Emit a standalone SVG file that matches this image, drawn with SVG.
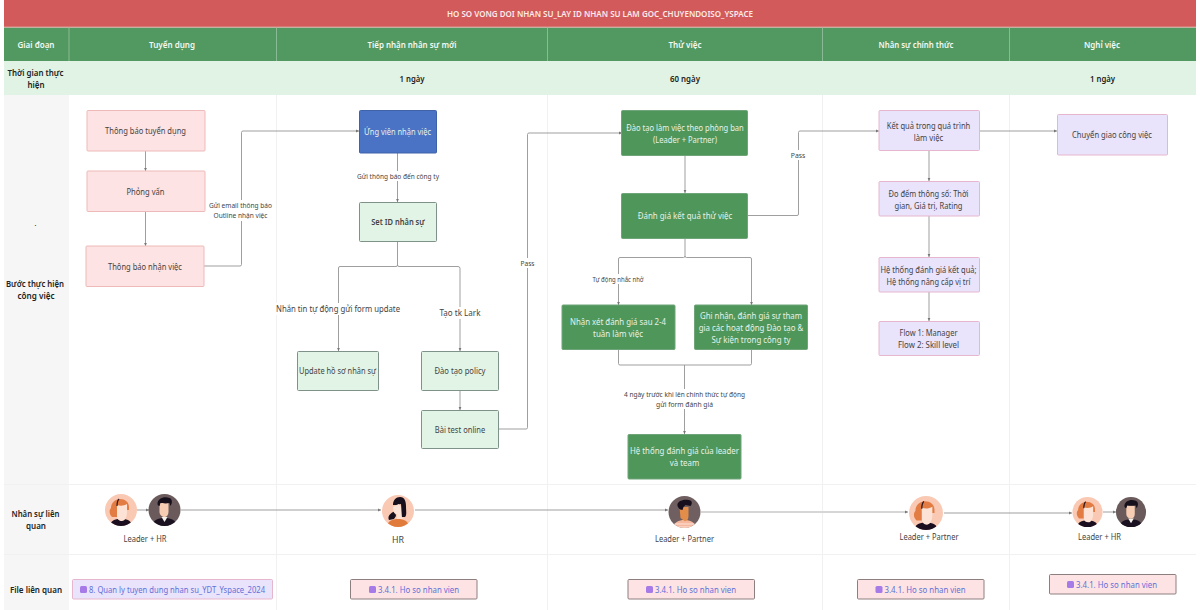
<svg xmlns="http://www.w3.org/2000/svg" width="1200" height="610" viewBox="0 0 1200 610">
<style>
text{font-family:"Noto Sans","Open Sans","DejaVu Sans",sans-serif;text-anchor:middle;dominant-baseline:central;font-size:9.2px;fill:#444;transform:translateY(-.5px)}
.ttl{fill:#fbeaea;font-weight:600;font-size:9px}
.hd{fill:#f2f8f3;font-weight:600;font-size:9.6px}
.rl{fill:#222;font-weight:600;font-size:9.6px}
.w{fill:#e6f2e8}
.s{font-size:7.8px}
.lk{fill:#5f71d9;text-anchor:start}
.b{stroke-width:1;rx:1}
.pink{fill:#fde3e3;stroke:#eeb9b9}
.blue{fill:#4a73c5;stroke:#3f62a8}
.lg{fill:#e2f4e6;stroke:#7f9289}
.dg{fill:#4f965a;stroke:#6fa578}
.lav{fill:#e9e3fc;stroke:#e6b6cf}
.fp{fill:#fde3e3;stroke:#8d7f80}
.fl{fill:#e9e3fc;stroke:#e6b6cf}
.c{fill:none;stroke:#949494;stroke-width:.9;marker-end:url(#a)}
.n{fill:none;stroke:#949494;stroke-width:.9}
.lb{fill:#fff}
.g{stroke:#f1f1f1;stroke-width:1}
.ic{fill:#a67be8}
</style>
<defs>
<marker id="a" markerUnits="userSpaceOnUse" markerWidth="4" markerHeight="4" refX="3" refY="2" orient="auto"><path d="M0 .6L3 2L0 3.400z" fill="#777"/></marker>
<clipPath id="cc"><circle r="16"/></clipPath>
<g id="fem"><circle r="16" fill="#fac9b4"/><g clip-path="url(#cc)"><path d="M-11 17c0-6 4-8 11-8s11 2 11 8z" fill="#1b0e1e"/><path d="M-9 7c-3-3-3-7-1-9 0-5 4-9 9-9 5 0 9 3 9 8v3H-3v7z" fill="#e37c42"/><path d="M-4-5c3 1 7 1 10-1v8c0 5-2 9-5 9s-5-2-5-5z" fill="#fde3d6"/><path d="M-2-11c-2 2-2 5-2 7" stroke="#2a1620" stroke-width="1.200" fill="none"/></g></g>
<g id="mal"><circle r="16" fill="#6a5a5b"/><g clip-path="url(#cc)"><path d="M-12 17c0-7 5-9 12-9s12 2 12 9z" fill="#1a1220"/><path d="M-3 7h6l-3 5z" fill="#f4f0ea"/><path d="M-5-7h9v9c0 3-2 5-4 5s-5-2-5-5z" fill="#f6cdb2"/><path d="M-7-6c0-6 7-8 12-6 3 1 3 5 1 8l-1-3c-4 1-8 0-9 0l-1 3c-1 0-2-1-2-2z" fill="#160f1c"/></g></g>
<g id="hrw"><circle r="16" fill="#fac9b4"/><g clip-path="url(#cc)"><path d="M-11 17c0-7 5-9 11-9s11 2 11 9z" fill="#e07b3c"/><path d="M-5-6c0-5 3-8 7-8 5 0 6 5 6 9 0 5 1 9-1 11l-3 0-1-13-5 1zM-3 0c-4 2-8 5-6 9l5-1 2-3z" fill="#170f1c"/><path d="M-5-4l6-3 2 3v9l2 3h-6v-5c-3 0-4-2-4-7z" fill="#fde3d6"/></g></g>
<g id="par"><circle r="16" fill="#6f5f60"/><g clip-path="url(#cc)"><path d="M-11 17c0-7 5-9 11-9s11 2 11 9z" fill="#f7b79d"/><path d="M-10 12h20M-11 15h22" stroke="#fbe4da" stroke-width="1"/><path d="M-5-5h9v8c0 4-1 6-4 6l-4-3z" fill="#e38d4b"/><path d="M-7-6c-1-5 6-7 11-6 4 0 4 4 2 6l-5-1-2 2-1 3c-3 0-4-2-5-4z" fill="#170f1c"/></g></g>
</defs>
<rect width="1200" height="610" fill="#fff"/>
<g id="table">
<rect x="4" y="0" width="1192" height="27" fill="#d25a5a"/>
<rect x="4" y="27.500" width="1192" height="33.500" fill="#529961"/>
<rect x="4" y="61" width="1192" height="34" fill="#e0f3e4"/>
<rect x="4" y="95" width="65" height="515" fill="#f6f6f6"/>
<path class="g" d="M276.500 95V610M547.500 95V610M822.500 95V610M1009.500 95V610M4 484.500H1196M4 554.500H1196"/>
<path d="M69 27.500V61M276.500 27.500V61M547.500 27.500V61M822.500 27.500V61M1009.500 27.500V61" stroke="#8ab995" stroke-width="1"/>
<path d="M4 27H1196" stroke="#d89a90" stroke-width="1"/>
<text class="ttl" x="600" y="14" textLength="306" lengthAdjust="spacingAndGlyphs">HO SO VONG DOI NHAN SU_LAY ID NHAN SU LAM GOC_CHUYENDOISO_YSPACE</text>
<text class="hd" x="36" y="44.500" textLength="37" lengthAdjust="spacingAndGlyphs">Giai đoạn</text>
<text class="hd" x="172" y="44.500" textLength="46" lengthAdjust="spacingAndGlyphs">Tuyển dụng</text>
<text class="hd" x="412" y="44.500" textLength="89" lengthAdjust="spacingAndGlyphs">Tiếp nhận nhân sự mới</text>
<text class="hd" x="685" y="44.500" textLength="33" lengthAdjust="spacingAndGlyphs">Thử việc</text>
<text class="hd" x="916" y="44.500" textLength="75" lengthAdjust="spacingAndGlyphs">Nhân sự chính thức</text>
<text class="hd" x="1102" y="44.500" textLength="36" lengthAdjust="spacingAndGlyphs">Nghỉ việc</text>
<text class="rl" x="35.500" y="72.500" textLength="56" lengthAdjust="spacingAndGlyphs">Thời gian thực</text>
<text class="rl" x="36" y="84.500" textLength="17" lengthAdjust="spacingAndGlyphs">hiện</text>
<text class="rl" x="412" y="78.500" textLength="25" lengthAdjust="spacingAndGlyphs">1 ngày</text>
<text class="rl" x="685" y="78.500" textLength="30" lengthAdjust="spacingAndGlyphs">60 ngày</text>
<text class="rl" x="1102.500" y="78.500" textLength="25" lengthAdjust="spacingAndGlyphs">1 ngày</text>
<text class="rl" x="35.500" y="224" style="font-weight:400;font-size:7px">.</text>
<text class="rl" x="35" y="284" textLength="58" lengthAdjust="spacingAndGlyphs">Bước thực hiện</text>
<text class="rl" x="36" y="296" textLength="37" lengthAdjust="spacingAndGlyphs">công việc</text>
<text class="rl" x="35.500" y="514" textLength="48" lengthAdjust="spacingAndGlyphs">Nhân sự liên</text>
<text class="rl" x="36" y="526" textLength="20" lengthAdjust="spacingAndGlyphs">quan</text>
<text class="rl" x="36" y="589.500" textLength="52" lengthAdjust="spacingAndGlyphs">File liên quan</text>
</g>
<g id="connectors">
<path class="c" d="M145.500 151V171"/>
<path class="c" d="M145.500 211V246"/>
<path class="c" d="M204 266H240a1.500 1.500 0 0 0 1.500-1.500V132.500a1.500 1.500 0 0 1 1.500-1.500H359"/>
<path class="c" d="M397.500 153V202"/>
<path class="c" d="M397.500 241V265a1.500 1.500 0 0 1-1.500 1.500H340a1.500 1.500 0 0 0-1.500 1.500V351"/>
<path class="c" d="M397.500 265a1.500 1.500 0 0 0 1.500 1.500H458a2 2 0 0 1 2 2V351"/>
<path class="c" d="M460 390V410"/>
<path class="c" d="M499 429H526a1.500 1.500 0 0 0 1.500-1.500V134.500a1.500 1.500 0 0 1 1.500-1.500H622"/>
<path class="c" d="M685 155V193"/>
<path class="c" d="M748 215.500H797a1.500 1.500 0 0 0 1.500-1.500V132.500a1.500 1.500 0 0 1 1.500-1.500H879"/>
<path class="c" d="M685 238V256a1.500 1.500 0 0 1-1.500 1.500H620a1.500 1.500 0 0 0-1.500 1.500V305"/>
<path class="c" d="M685 256a1.500 1.500 0 0 0 1.500 1.500H750a1.500 1.500 0 0 1 1.500 1.500V305"/>
<path class="n" d="M618.500 349V363.500a1.500 1.500 0 0 0 1.500 1.500H750a1.500 1.500 0 0 0 1.500-1.500V349"/>
<path class="c" d="M684.500 365V434"/>
<path class="c" d="M929 151V181"/>
<path class="c" d="M929 216V257"/>
<path class="c" d="M929 292V321"/>
<path class="c" d="M980 131H1057"/>
<path class="c" d="M137 510H149"/>
<path class="c" d="M181 510H381"/>
<path class="c" d="M415 510H668"/>
<path class="c" d="M701 512H908" style="stroke:#d6d6d6;stroke-width:2"/>
<path class="c" d="M944 513H1072"/>
<path class="c" d="M1103 512H1116"/>
<rect class="lb" x="208" y="200" width="66" height="21"/>
<rect class="lb" x="356" y="171" width="84" height="10"/>
<rect class="lb" x="276" y="303" width="124" height="12"/>
<rect class="lb" x="438" y="307" width="44" height="12"/>
<rect class="lb" x="520" y="258" width="15" height="10"/>
<rect class="lb" x="790" y="150" width="16" height="10"/>
<rect class="lb" x="592" y="274" width="53" height="10"/>
<rect class="lb" x="623" y="389" width="123" height="20"/>
<text class="s" x="240.500" y="205.500" textLength="63" lengthAdjust="spacingAndGlyphs">Gửi email thông báo</text>
<text class="s" x="240.500" y="215.500" textLength="54" lengthAdjust="spacingAndGlyphs">Outline nhận việc</text>
<text class="s" x="398" y="176" textLength="82" lengthAdjust="spacingAndGlyphs">Gửi thông báo đến công ty</text>
<text x="338" y="309" textLength="124" lengthAdjust="spacingAndGlyphs">Nhắn tin tự động gửi form update</text>
<text x="460" y="313" textLength="41" lengthAdjust="spacingAndGlyphs">Tạo tk Lark</text>
<text class="s" x="527.500" y="263" textLength="14" lengthAdjust="spacingAndGlyphs">Pass</text>
<text class="s" x="798" y="155" textLength="14.500" lengthAdjust="spacingAndGlyphs">Pass</text>
<text class="s" x="618" y="279.500" textLength="51" lengthAdjust="spacingAndGlyphs">Tự động nhắc nhở</text>
<text class="s" x="684.500" y="394" textLength="121" lengthAdjust="spacingAndGlyphs">4 ngày trước khi lên chính thức tự động</text>
<text class="s" x="684.500" y="404" textLength="57" lengthAdjust="spacingAndGlyphs">gửi form đánh giá</text>
</g>
<g id="n1"><rect class="b pink" x="87" y="110.500" width="118" height="40.500"/><text x="145.500" y="131" textLength="81" lengthAdjust="spacingAndGlyphs">Thông báo tuyển dụng</text></g>
<g id="n2"><rect class="b pink" x="87" y="171" width="118" height="40.500"/><text x="145.500" y="192" textLength="38" lengthAdjust="spacingAndGlyphs">Phỏng vấn</text></g>
<g id="n3"><rect class="b pink" x="86" y="246" width="118" height="40.500"/><text x="145" y="267" textLength="74" lengthAdjust="spacingAndGlyphs">Thông báo nhận việc</text></g>
<g id="n4"><rect class="b blue" x="359.500" y="110.500" width="77" height="42.500"/><text class="w" x="397.500" y="132" textLength="67" lengthAdjust="spacingAndGlyphs">Ứng viên nhận việc</text></g>
<g id="n5"><rect class="b lg" x="359.500" y="202.500" width="77" height="39"/><text x="398" y="222" style="font-weight:600" textLength="53.500" lengthAdjust="spacingAndGlyphs">Set ID nhân sự</text></g>
<g id="n6"><rect class="b lg" x="297.500" y="351.500" width="81" height="39"/><text x="337.500" y="371" textLength="77" lengthAdjust="spacingAndGlyphs">Update hồ sơ nhân sự</text></g>
<g id="n7"><rect class="b lg" x="421.500" y="351.500" width="77" height="39"/><text x="460" y="371" textLength="51" lengthAdjust="spacingAndGlyphs">Đào tạo policy</text></g>
<g id="n8"><rect class="b lg" x="421.500" y="410.500" width="77" height="38"/><text x="460" y="430" textLength="50.500" lengthAdjust="spacingAndGlyphs">Bài test online</text></g>
<g id="n9"><rect class="b dg" x="621.500" y="110.500" width="126" height="45"/><text class="w" x="685" y="128" textLength="117.500" lengthAdjust="spacingAndGlyphs">Đào tạo làm việc theo phòng ban</text><text class="w" x="685" y="139.500" textLength="64" lengthAdjust="spacingAndGlyphs">(Leader + Partner)</text></g>
<g id="n10"><rect class="b dg" x="621.500" y="193.500" width="126" height="45"/><text class="w" x="685" y="216" textLength="94.500" lengthAdjust="spacingAndGlyphs">Đánh giá kết quả thử việc</text></g>
<g id="n11"><rect class="b dg" x="562" y="305" width="113" height="44.500"/><text class="w" x="618" y="322" textLength="96" lengthAdjust="spacingAndGlyphs">Nhận xét đánh giá sau 2-4</text><text class="w" x="618" y="333.500" textLength="50" lengthAdjust="spacingAndGlyphs">tuần làm việc</text></g>
<g id="n12"><rect class="b dg" x="694.500" y="305" width="113" height="44.500"/><text class="w" x="751" y="316" textLength="102" lengthAdjust="spacingAndGlyphs">Ghi nhận, đánh giá sự tham</text><text class="w" x="751" y="328" textLength="104.500" lengthAdjust="spacingAndGlyphs">gia các hoạt động Đào tạo &amp;</text><text class="w" x="751" y="340" textLength="79" lengthAdjust="spacingAndGlyphs">Sự kiện trong công ty</text></g>
<g id="n13"><rect class="b dg" x="628" y="434.500" width="113" height="44.500"/><text class="w" x="684.500" y="451" textLength="109" lengthAdjust="spacingAndGlyphs">Hệ thống đánh giá của leader</text><text class="w" x="684.500" y="463" textLength="29.500" lengthAdjust="spacingAndGlyphs">và team</text></g>
<g id="n14"><rect class="b lav" x="879" y="110.500" width="100.500" height="40"/><text x="928.500" y="126" textLength="83.500" lengthAdjust="spacingAndGlyphs">Kết quả trong quá trình</text><text x="928.500" y="137.500" textLength="29.500" lengthAdjust="spacingAndGlyphs">làm việc</text></g>
<g id="n15"><rect class="b lav" x="879" y="181.500" width="100.500" height="34.500"/><text x="928.500" y="194" textLength="80" lengthAdjust="spacingAndGlyphs">Đo đếm thông số: Thời</text><text x="928.500" y="205.500" textLength="68" lengthAdjust="spacingAndGlyphs">gian, Giá trị, Rating</text></g>
<g id="n16"><rect class="b lav" x="879" y="257.500" width="100.500" height="34.500"/><text x="928.500" y="270" textLength="96" lengthAdjust="spacingAndGlyphs">Hệ thống đánh giá kết quả;</text><text x="928.500" y="281.500" textLength="84" lengthAdjust="spacingAndGlyphs">Hệ thống nâng cấp vị trí</text></g>
<g id="n17"><rect class="b lav" x="879" y="321.500" width="100.500" height="34"/><text x="928.500" y="333" textLength="58" lengthAdjust="spacingAndGlyphs">Flow 1: Manager</text><text x="928.500" y="344.500" textLength="61" lengthAdjust="spacingAndGlyphs">Flow 2: Skill level</text></g>
<g id="n18"><rect class="b lav" x="1057.500" y="114.500" width="110" height="40.500"/><text x="1112" y="135" textLength="80" lengthAdjust="spacingAndGlyphs">Chuyển giao công việc</text></g>
<g id="p1"><use href="#fem" transform="translate(121 510)"/><use href="#mal" transform="translate(164.500 510)"/><text class="s" x="145" y="539" style="font-size:8.500px" textLength="43" lengthAdjust="spacingAndGlyphs">Leader + HR</text></g>
<g id="p2"><use href="#hrw" transform="translate(398 511)"/><text class="s" x="398" y="540" style="font-size:8.500px" textLength="12" lengthAdjust="spacingAndGlyphs">HR</text></g>
<g id="p3"><use href="#par" transform="translate(684.500 512)"/><text class="s" x="684.500" y="539" style="font-size:8.500px" textLength="59" lengthAdjust="spacingAndGlyphs">Leader + Partner</text></g>
<g id="p4"><use href="#fem" transform="translate(926 513) scale(1.060)"/><text class="s" x="929" y="537" style="font-size:8.500px" textLength="59" lengthAdjust="spacingAndGlyphs">Leader + Partner</text></g>
<g id="p5"><use href="#fem" transform="translate(1087.500 512) scale(.94)"/><use href="#mal" transform="translate(1131 512) scale(.94)"/><text class="s" x="1099.500" y="537" style="font-size:8.500px" textLength="43" lengthAdjust="spacingAndGlyphs">Leader + HR</text></g>
<g id="f1"><rect class="b fl" x="72.500" y="579.500" width="200" height="19.500"/><rect class="ic" x="80" y="586" width="7" height="7" rx="1.500"/><text class="lk" x="89" y="589.500" textLength="176" lengthAdjust="spacingAndGlyphs">8. Quan ly tuyen dung nhan su_YDT_Yspace_2024</text></g>
<g id="f2"><rect class="b fp" x="350.500" y="579.500" width="126.500" height="19.500"/><rect class="ic" x="369" y="586" width="7" height="7" rx="1.500"/><text class="lk" x="378" y="589.500" textLength="81" lengthAdjust="spacingAndGlyphs">3.4.1. Ho so nhan vien</text></g>
<g id="f3"><rect class="b fp" x="628" y="579.500" width="126.500" height="19.500"/><rect class="ic" x="646" y="586" width="7" height="7" rx="1.500"/><text class="lk" x="655" y="589.500" textLength="81" lengthAdjust="spacingAndGlyphs">3.4.1. Ho so nhan vien</text></g>
<g id="f4"><rect class="b fp" x="857.500" y="579.500" width="126.500" height="19.500"/><rect class="ic" x="875.500" y="586" width="7" height="7" rx="1.500"/><text class="lk" x="884.500" y="589.500" textLength="81" lengthAdjust="spacingAndGlyphs">3.4.1. Ho so nhan vien</text></g>
<g id="f5"><rect class="b fp" x="1049.500" y="574.500" width="126.500" height="19.500"/><rect class="ic" x="1067" y="581" width="7" height="7" rx="1.500"/><text class="lk" x="1076" y="584.500" textLength="81" lengthAdjust="spacingAndGlyphs">3.4.1. Ho so nhan vien</text></g>
</svg>
